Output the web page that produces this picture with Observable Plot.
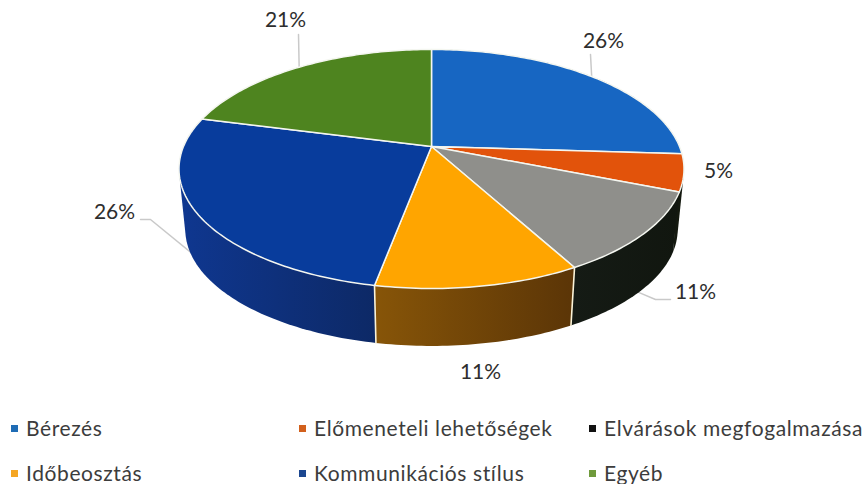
<!DOCTYPE html>
<html><head><meta charset="utf-8">
<script src="https://cdn.jsdelivr.net/npm/d3@7"></script>
<script src="https://cdn.jsdelivr.net/npm/@observablehq/plot@0.6"></script>
<style>
html,body{margin:0;padding:0;background:#fff;width:864px;height:484px;overflow:hidden}
#legend{position:relative;height:84px;width:864px;font-family:Lato,sans-serif;font-size:21px;color:#3c3c3c;letter-spacing:.6px}
.item{position:absolute;white-space:nowrap;line-height:24px;transform:translateY(-50%)}
.sw{position:absolute;width:7px;height:7px;left:-15px;top:9px}
</style></head><body>
<div id="chart"></div><div id="legend"></div>
<script>
const categories = ["Bérezés","Előmeneteli lehetőségek","Elvárások megfogalmazása","Időbeosztás","Kommunikációs stílus","Egyéb"];
const values = [26,5,11,11,26,21];
const labels = ["26%","5%","11%","11%","26%","21%"];
const topColors = ["#1766c2","#e2530b","#8f8f8b","#ffa500","#083c9c","#4e841f"];
const legendColors = ["#1f6cb5","#d2601c","#111111","#f5a623","#1c4790","#6f9a3c"];
const sideStops = [["#14190f","#14190f"],["#14190f","#14190f"],["#151b15","#11160f"],["#875508","#5b3507"],["#0f3790","#0d2966"],["#0f3790","#0f3790"]];

// layout
const W = 864, H = 400, CX = 431, CY = 146, A = 248, B = 115.3, P = 0.188;
const DROP = 61 / B, SHRINK = 0.975;
const x = {domain: [-CX / A, (W - CX) / A], range: [0, W], axis: null};
const y = {domain: [-CY / B, (H - CY) / B], range: [0, H], axis: null};
const fromPxX = px => (px - CX) / A, fromPxY = py => (py - CY) / B;

// tilted-disk projection of an angle (clockwise from the top, in degrees)
function rim(deg, f = 0) {
  const t = deg * Math.PI / 180, u = Math.sin(t), v = -Math.cos(t), d = 1 - P * v;
  const s = 1 + (SHRINK - 1) * f;
  return {x: s * u / d, y: s * v / d + DROP * f};
}
function arc(a0, a1, f = 0) {
  const n = Math.max(2, Math.ceil(Math.abs(a1 - a0))), out = [];
  for (let i = 0; i <= n; i++) out.push(rim(a0 + (a1 - a0) * i / n, f));
  return out;
}
const total = d3.sum(values);
let acc = 0;
const slices = values.map((v, i) => {
  const a0 = acc * 360 / total; acc += v; const a1 = acc * 360 / total;
  return {i, a0, a1, mid: (a0 + a1) / 2};
});

const defs = () => {
  const d = d3.create("svg:defs");
  sideStops.forEach((s, i) => {
    const g = d.append("linearGradient").attr("id", "side" + i);
    g.append("stop").attr("offset", "0%").attr("stop-color", s[0]);
    g.append("stop").attr("offset", "100%").attr("stop-color", s[1]);
  });
  return d.node();
};

const closed = {x: "x", y: "y", curve: "linear-closed"};
const hull = s => d3.polygonHull([...arc(s.a0, s.a1, 0), ...arc(s.a0, s.a1, 1)].map(p => [p.x, p.y]))
  .map(([x, y]) => ({x, y}));
const sideMarks = slices.filter(s => s.a1 > 90 && s.a0 < 270).map(s =>
  Plot.line(hull(s), {...closed, fill: `url(#side${s.i})`, stroke: "none"}));
const seams = slices.filter(s => s.a0 > 120 && s.a0 < 240).map(s =>
  Plot.line([rim(s.a0, 0), rim(s.a0, 1)], {x: "x", y: "y", stroke: "#fbf3d8", strokeWidth: 1.6}));
const topMarks = slices.map(s =>
  Plot.line([{x: 0, y: 0}, ...arc(s.a0, s.a1)], {...closed, fill: topColors[s.i], stroke: "#f4f6f0", strokeWidth: 1.5, strokeLinejoin: "round"}));

// leader lines start on the rim at each slice's mid angle
const leader = (i, f, bends) => {
  const p = rim(slices[i].mid, f);
  return Plot.line([p, ...bends.map(([px, py]) => ({x: fromPxX(px), y: fromPxY(py)}))],
    {x: "x", y: "y", stroke: "#c9c9c9", strokeWidth: 1.5});
};
const leaders = [
  leader(0, 0, [[590, 54]]),
  leader(5, 0, [[298, 34]]),
  leader(2, 1, [[655, 299], [670, 299]]),
  leader(4, 0.8, [[150, 219], [140, 219]])
];
const labelPx = [[603, 41], [718, 171], [695, 292], [480, 372], [114, 212], [285, 20]];
const labelData = labels.map((t, i) => ({t, x: fromPxX(labelPx[i][0]), y: fromPxY(labelPx[i][1])}));

const plot = Plot.plot({
  width: W, height: H, margin: 0, x, y,
  style: {background: "#fff"},
  marks: [
    defs,
    ...leaders, ...sideMarks, ...seams, ...topMarks,
    Plot.text(labelData, {x: "x", y: "y", text: "t", fontSize: 21, fontFamily: "Lato, sans-serif", fill: "#2e2e2e"})
  ]
});
document.getElementById("chart").appendChild(plot);

const legendX = [26, 314, 604], legendY = [28, 73];
const legend = document.getElementById("legend");
categories.forEach((c, i) => {
  const el = document.createElement("div");
  el.className = "item";
  el.style.left = legendX[i % 3] + "px";
  el.style.top = legendY[Math.floor(i / 3)] + "px";
  el.innerHTML = `<span class="sw" style="background:${legendColors[i]}"></span>`;
  el.appendChild(document.createTextNode(c));
  legend.appendChild(el);
});
</script></body></html>
